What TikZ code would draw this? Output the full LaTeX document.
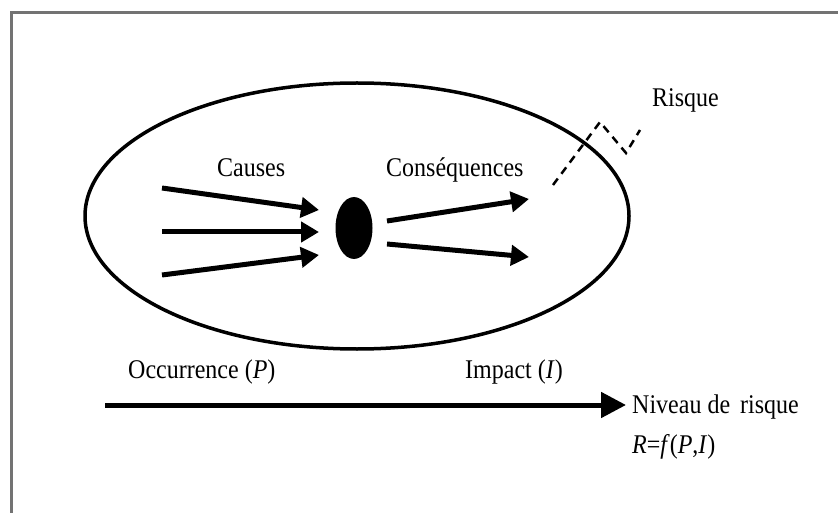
\documentclass[tikz,border=0pt]{standalone}
\usepackage{fontspec}
\setmainfont{Liberation Serif}
\usetikzlibrary{arrows.meta,shapes.geometric}
\newcommand{\stretchtxt}[1]{\scalebox{0.96}[1.08]{#1}}
\tikzset{
  lbl/.style={inner sep=0pt, anchor=base west, font=\fontsize{25}{30}\selectfont},
  thickarrow/.style={line width=5pt, -{Triangle[length=18pt,width=20pt]}},
  bigarrow/.style={line width=5pt, -{Triangle[length=25pt,width=25pt]}},
  riskline/.style={line width=2.5pt, dash pattern=on 8pt off 6pt},
  frameline/.style={draw=gray!90!black, line width=3pt}
}
\begin{document}
\begin{tikzpicture}[x=1pt,y=-1pt]
\useasboundingbox (0,0) rectangle (838,513);
\fill[white] (0,0) rectangle (838,513);
% frame
\draw[frameline] (11,513) -- (11,13) -- (838,13);
% ellipse
\draw[line width=3.5pt] (357,216) ellipse [x radius=272, y radius=133];
\node[ellipse, fill=black, draw=none, minimum width=37pt, minimum height=62pt, inner sep=0pt] (dot) at (354,228) {};
% labels
\node[lbl] (causes) at (217,177) {\stretchtxt{Causes}};
\node[lbl] (cons) at (386,177) {\stretchtxt{Conséquences}};
\node[lbl] (risque) at (652,107) {\stretchtxt{Risque}};
\node[lbl] (occ) at (128,378) {\stretchtxt{Occurrence (\textit{P})}};
\node[lbl] (imp) at (465,378) {\stretchtxt{Impact (\textit{I})}};
\node[lbl] (niv) at (632,413) {\stretchtxt{Niveau de\, risque}};
\node[lbl] (rf) at (632,453) {\stretchtxt{\textit{R}=\textit{f}(\textit{P},\textit{I})}};
% cause arrows
\coordinate (c1s) at (162,188);
\coordinate (c1e) at (319,210);
\coordinate (c2s) at (162,232);
\coordinate (c2e) at (319,232);
\coordinate (c3s) at (162,275);
\coordinate (c3e) at (319,255);
\draw[thickarrow] (c1s) -- (c1e);
\draw[thickarrow] (c2s) -- (c2e);
\draw[thickarrow] (c3s) -- (c3e);
% consequence arrows
\coordinate (q1s) at (387,221);
\coordinate (q1e) at (529,199);
\coordinate (q2s) at (387,244);
\coordinate (q2e) at (529,257);
\draw[thickarrow] (q1s) -- (q1e);
\draw[thickarrow] (q2s) -- (q2e);
% risk dashed line
\coordinate (r0) at (553,185);
\coordinate (r1) at (600,122);
\coordinate (r2) at (626,153);
\coordinate (r3) at (640,130);
\draw[riskline] (r0) -- (r1) -- (r2) -- (r3);
% bottom arrow
\coordinate (bs) at (105,405);
\coordinate (be) at (626,405);
\draw[bigarrow] (bs) -- (be);
\end{tikzpicture}
\end{document}
